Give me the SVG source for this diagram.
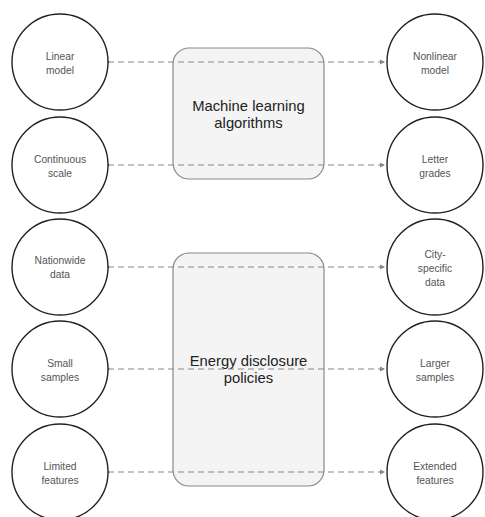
<svg xmlns="http://www.w3.org/2000/svg" width="485" height="517" viewBox="0 0 485 517">
<style>
.c{fill:#fff;stroke:#222;stroke-width:1.4}
.b{fill:#f4f4f4;stroke:#888;stroke-width:1.2}
.t{font-family:"Liberation Sans",Arial,sans-serif;font-size:10.3px;fill:#555;text-anchor:middle}
.bt{font-family:"Liberation Sans",Arial,sans-serif;font-size:14.8px;fill:#222;text-anchor:middle}
.l{stroke:#888;stroke-width:1.2;stroke-dasharray:6 4;fill:none}
</style>
<defs>
<marker id="a" markerWidth="6" markerHeight="6" refX="5" refY="3" orient="auto" markerUnits="userSpaceOnUse"><path d="M0,0.5 L5,3 L0,5.5z" fill="#888"/></marker>
<marker id="d" markerWidth="4" markerHeight="4" refX="2" refY="2" markerUnits="userSpaceOnUse"><circle cx="2" cy="2" r="1.5" fill="#888"/></marker>
</defs>
<g id="box-ml"><rect class="b" x="173" y="48" width="151" height="131" rx="16"/>
<text class="bt" x="248.5" y="111">Machine learning</text><text class="bt" x="248.5" y="128">algorithms</text></g>
<g id="box-energy"><rect class="b" x="173" y="253" width="151" height="233" rx="16"/>
<text class="bt" x="248.5" y="366">Energy disclosure</text><text class="bt" x="248.5" y="383">policies</text></g>
<g id="connectors">
<path class="l" d="M108,62H385" marker-start="url(#d)" marker-end="url(#a)"/>
<path class="l" d="M108,165H385" marker-start="url(#d)" marker-end="url(#a)"/>
<path class="l" d="M108,267H385" marker-start="url(#d)" marker-end="url(#a)"/>
<path class="l" d="M108,369H385" marker-start="url(#d)" marker-end="url(#a)"/>
<path class="l" d="M108,472H385" marker-start="url(#d)" marker-end="url(#a)"/>
</g>
<g id="n1"><circle class="c" cx="60" cy="62" r="48"/><text class="t" x="60" y="60">Linear</text><text class="t" x="60" y="74">model</text></g>
<g id="n2"><circle class="c" cx="60" cy="165" r="48"/><text class="t" x="60" y="163">Continuous</text><text class="t" x="60" y="177">scale</text></g>
<g id="n3"><circle class="c" cx="60" cy="267" r="48"/><text class="t" x="60" y="264">Nationwide</text><text class="t" x="60" y="278">data</text></g>
<g id="n4"><circle class="c" cx="60" cy="369" r="48"/><text class="t" x="60" y="367">Small</text><text class="t" x="60" y="381">samples</text></g>
<g id="n5"><circle class="c" cx="60" cy="472" r="48"/><text class="t" x="60" y="470">Limited</text><text class="t" x="60" y="484">features</text></g>
<g id="n6"><circle class="c" cx="435" cy="62" r="48"/><text class="t" x="435" y="60">Nonlinear</text><text class="t" x="435" y="74">model</text></g>
<g id="n7"><circle class="c" cx="435" cy="165" r="48"/><text class="t" x="435" y="163">Letter</text><text class="t" x="435" y="177">grades</text></g>
<g id="n8"><circle class="c" cx="435" cy="267" r="48"/><text class="t" x="435" y="258">City-</text><text class="t" x="435" y="272">specific</text><text class="t" x="435" y="286">data</text></g>
<g id="n9"><circle class="c" cx="435" cy="369" r="48"/><text class="t" x="435" y="367">Larger</text><text class="t" x="435" y="381">samples</text></g>
<g id="n10"><circle class="c" cx="435" cy="472" r="48"/><text class="t" x="435" y="470">Extended</text><text class="t" x="435" y="484">features</text></g>
</svg>
